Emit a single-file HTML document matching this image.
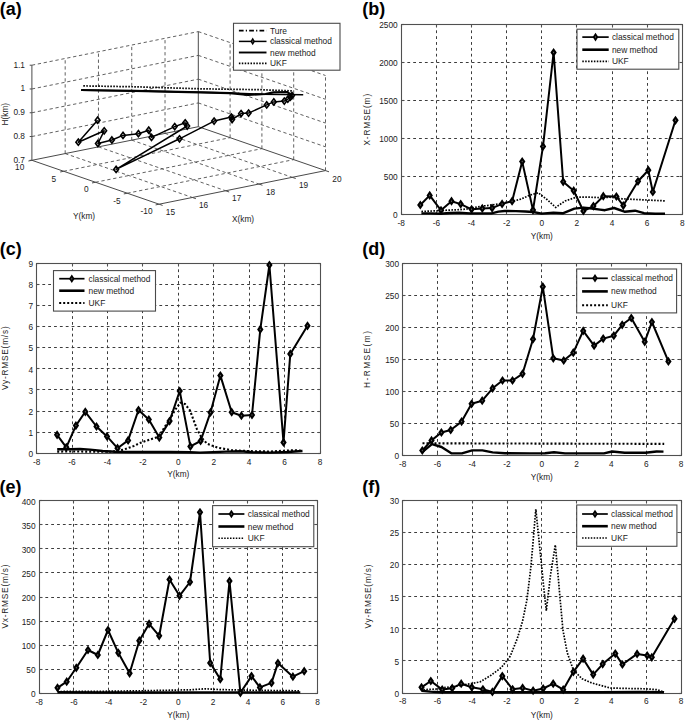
<!DOCTYPE html><html><head><meta charset="utf-8"><style>html,body{margin:0;padding:0;background:#fff;width:685px;height:720px;overflow:hidden}svg{display:block;font-family:"Liberation Sans",sans-serif}</style></head><body>
<svg width="685" height="720" viewBox="0 0 685 720" font-size="8.3" fill="#1a1a1a">
<line x1="31.90" y1="136.52" x2="198.30" y2="102.92" stroke="#444" stroke-width="0.85" stroke-dasharray="3.3 2.7"/>
<line x1="31.90" y1="112.75" x2="198.30" y2="79.15" stroke="#444" stroke-width="0.85" stroke-dasharray="3.3 2.7"/>
<line x1="31.90" y1="88.97" x2="198.30" y2="55.38" stroke="#444" stroke-width="0.85" stroke-dasharray="3.3 2.7"/>
<line x1="31.90" y1="65.20" x2="198.30" y2="31.60" stroke="#444" stroke-width="0.85" stroke-dasharray="3.3 2.7"/>
<line x1="65.18" y1="153.58" x2="65.18" y2="58.48" stroke="#444" stroke-width="0.85" stroke-dasharray="3.3 2.7"/>
<line x1="98.46" y1="146.86" x2="98.46" y2="51.76" stroke="#444" stroke-width="0.85" stroke-dasharray="3.3 2.7"/>
<line x1="131.74" y1="140.14" x2="131.74" y2="45.04" stroke="#444" stroke-width="0.85" stroke-dasharray="3.3 2.7"/>
<line x1="165.02" y1="133.42" x2="165.02" y2="38.32" stroke="#444" stroke-width="0.85" stroke-dasharray="3.3 2.7"/>
<line x1="198.30" y1="102.92" x2="325.50" y2="146.82" stroke="#444" stroke-width="0.85" stroke-dasharray="3.3 2.7"/>
<line x1="198.30" y1="79.15" x2="325.50" y2="123.05" stroke="#444" stroke-width="0.85" stroke-dasharray="3.3 2.7"/>
<line x1="198.30" y1="55.38" x2="325.50" y2="99.28" stroke="#444" stroke-width="0.85" stroke-dasharray="3.3 2.7"/>
<line x1="198.30" y1="31.60" x2="325.50" y2="75.50" stroke="#444" stroke-width="0.85" stroke-dasharray="3.3 2.7"/>
<line x1="230.10" y1="137.68" x2="230.10" y2="42.57" stroke="#444" stroke-width="0.85" stroke-dasharray="3.3 2.7"/>
<line x1="261.90" y1="148.65" x2="261.90" y2="53.55" stroke="#444" stroke-width="0.85" stroke-dasharray="3.3 2.7"/>
<line x1="293.70" y1="159.62" x2="293.70" y2="64.52" stroke="#444" stroke-width="0.85" stroke-dasharray="3.3 2.7"/>
<line x1="325.50" y1="170.60" x2="325.50" y2="75.50" stroke="#444" stroke-width="0.85" stroke-dasharray="3.3 2.7"/>
<line x1="65.18" y1="153.58" x2="192.38" y2="197.48" stroke="#444" stroke-width="0.85" stroke-dasharray="3.3 2.7"/>
<line x1="98.46" y1="146.86" x2="225.66" y2="190.76" stroke="#444" stroke-width="0.85" stroke-dasharray="3.3 2.7"/>
<line x1="131.74" y1="140.14" x2="258.94" y2="184.04" stroke="#444" stroke-width="0.85" stroke-dasharray="3.3 2.7"/>
<line x1="165.02" y1="133.42" x2="292.22" y2="177.32" stroke="#444" stroke-width="0.85" stroke-dasharray="3.3 2.7"/>
<line x1="63.70" y1="171.28" x2="230.10" y2="137.68" stroke="#444" stroke-width="0.85" stroke-dasharray="3.3 2.7"/>
<line x1="95.50" y1="182.25" x2="261.90" y2="148.65" stroke="#444" stroke-width="0.85" stroke-dasharray="3.3 2.7"/>
<line x1="127.30" y1="193.23" x2="293.70" y2="159.62" stroke="#444" stroke-width="0.85" stroke-dasharray="3.3 2.7"/>
<line x1="31.90" y1="160.30" x2="31.90" y2="65.20" stroke="#4a4a4a" stroke-width="1"/>
<line x1="198.30" y1="126.70" x2="198.30" y2="31.60" stroke="#4a4a4a" stroke-width="1"/>
<line x1="31.90" y1="160.30" x2="198.30" y2="126.70" stroke="#4a4a4a" stroke-width="1"/>
<line x1="198.30" y1="126.70" x2="325.50" y2="170.60" stroke="#4a4a4a" stroke-width="1"/>
<line x1="31.90" y1="160.30" x2="159.10" y2="204.20" stroke="#4a4a4a" stroke-width="1"/>
<line x1="159.10" y1="204.20" x2="325.50" y2="170.60" stroke="#4a4a4a" stroke-width="1"/>
<line x1="31.90" y1="160.30" x2="29.70" y2="160.30" stroke="#4a4a4a" stroke-width="1"/>
<text x="25.00" y="162.70" text-anchor="end">0.7</text>
<line x1="31.90" y1="136.52" x2="29.70" y2="136.52" stroke="#4a4a4a" stroke-width="1"/>
<text x="25.00" y="138.92" text-anchor="end">0.8</text>
<line x1="31.90" y1="112.75" x2="29.70" y2="112.75" stroke="#4a4a4a" stroke-width="1"/>
<text x="25.00" y="115.15" text-anchor="end">0.9</text>
<line x1="31.90" y1="88.97" x2="29.70" y2="88.97" stroke="#4a4a4a" stroke-width="1"/>
<text x="25.00" y="91.38" text-anchor="end">1</text>
<line x1="31.90" y1="65.20" x2="29.70" y2="65.20" stroke="#4a4a4a" stroke-width="1"/>
<text x="25.00" y="67.60" text-anchor="end">1.1</text>
<line x1="31.90" y1="160.30" x2="28.41" y2="161.01" stroke="#4a4a4a" stroke-width="1"/>
<line x1="63.70" y1="171.28" x2="60.21" y2="171.98" stroke="#4a4a4a" stroke-width="1"/>
<line x1="95.50" y1="182.25" x2="92.01" y2="182.96" stroke="#4a4a4a" stroke-width="1"/>
<line x1="127.30" y1="193.23" x2="123.81" y2="193.93" stroke="#4a4a4a" stroke-width="1"/>
<line x1="159.10" y1="204.20" x2="155.61" y2="204.91" stroke="#4a4a4a" stroke-width="1"/>
<line x1="159.10" y1="204.20" x2="162.60" y2="205.41" stroke="#4a4a4a" stroke-width="1"/>
<line x1="192.38" y1="197.48" x2="195.88" y2="198.69" stroke="#4a4a4a" stroke-width="1"/>
<line x1="225.66" y1="190.76" x2="229.16" y2="191.97" stroke="#4a4a4a" stroke-width="1"/>
<line x1="258.94" y1="184.04" x2="262.44" y2="185.25" stroke="#4a4a4a" stroke-width="1"/>
<line x1="292.22" y1="177.32" x2="295.72" y2="178.53" stroke="#4a4a4a" stroke-width="1"/>
<line x1="325.50" y1="170.60" x2="329.00" y2="171.81" stroke="#4a4a4a" stroke-width="1"/>
<text x="19.70" y="170.20" text-anchor="middle">10</text>
<text x="53.80" y="181.50" text-anchor="middle">5</text>
<text x="86.40" y="192.00" text-anchor="middle">0</text>
<text x="117.00" y="203.80" text-anchor="middle">-5</text>
<text x="146.50" y="214.40" text-anchor="middle">-10</text>
<text x="170.40" y="214.80" text-anchor="middle">15</text>
<text x="203.60" y="208.10" text-anchor="middle">16</text>
<text x="236.70" y="201.30" text-anchor="middle">17</text>
<text x="270.60" y="194.60" text-anchor="middle">18</text>
<text x="303.50" y="188.40" text-anchor="middle">19</text>
<text x="336.90" y="181.60" text-anchor="middle">20</text>
<text x="84" y="219.4" text-anchor="middle">Y(km)</text>
<text x="243" y="222.2" text-anchor="middle">X(km)</text>
<text transform="translate(8,114.2) rotate(-90)" text-anchor="middle">H(km)</text>
<polyline points="83.3,85.9 135.0,86.8 200.0,88.8 260.0,89.7 293.3,90.9" fill="none" stroke="#000" stroke-width="1.7" stroke-dasharray="1.6 1.4"/>
<polyline points="81.1,90.3 135.0,91.0 200.0,92.3 230.0,93.0 262.0,94.2 303.2,94.8" fill="none" stroke="#000" stroke-width="1.6"/>
<polyline points="81.1,90.0 135.0,90.8 200.0,92.4 230.0,93.2 248.0,94.8 258.0,94.4 265.4,94.0 273.5,92.4 287.1,92.0 289.5,93.6 292.8,95.2" fill="none" stroke="#000" stroke-width="2.2" stroke-linejoin="round"/>
<polyline points="97.6,120.2 78.3,142.2 104.2,130.8 97.9,143.5 111.9,140.0 123.0,135.4 138.4,133.7 148.7,130.2 151.5,137.4 174.7,126.6 185.2,122.8 187.2,126.0 116.1,169.4 179.5,138.8 214.1,121.1 231.4,117.1 232.1,119.5 241.1,113.6 248.6,113.1 266.7,104.9 273.8,101.9 284.3,101.1 287.8,99.2 290.4,97.1 292.0,95.6" fill="none" stroke="#000" stroke-width="1.5" stroke-linejoin="round"/>
<path d="M97.6 117.1L100.0 120.2L97.6 123.3L95.2 120.2ZM78.3 139.1L80.7 142.2L78.3 145.3L75.9 142.2ZM104.2 127.7L106.6 130.8L104.2 133.9L101.8 130.8ZM97.9 140.4L100.3 143.5L97.9 146.6L95.5 143.5ZM111.9 136.9L114.3 140.0L111.9 143.1L109.5 140.0ZM123.0 132.3L125.4 135.4L123.0 138.5L120.6 135.4ZM138.4 130.6L140.8 133.7L138.4 136.8L136.0 133.7ZM148.7 127.1L151.1 130.2L148.7 133.3L146.3 130.2ZM151.5 134.3L153.9 137.4L151.5 140.5L149.1 137.4ZM174.7 123.5L177.1 126.6L174.7 129.7L172.3 126.6ZM185.2 119.7L187.6 122.8L185.2 125.9L182.8 122.8ZM187.2 122.9L189.6 126.0L187.2 129.1L184.8 126.0ZM116.1 166.3L118.5 169.4L116.1 172.5L113.7 169.4ZM179.5 135.7L181.9 138.8L179.5 141.9L177.1 138.8ZM214.1 118.0L216.5 121.1L214.1 124.2L211.7 121.1ZM231.4 114.0L233.8 117.1L231.4 120.2L229.0 117.1ZM232.1 116.4L234.5 119.5L232.1 122.6L229.7 119.5ZM241.1 110.5L243.5 113.6L241.1 116.7L238.7 113.6ZM248.6 110.0L251.0 113.1L248.6 116.2L246.2 113.1ZM266.7 101.8L269.1 104.9L266.7 108.0L264.3 104.9ZM273.8 98.8L276.2 101.9L273.8 105.0L271.4 101.9ZM284.3 98.0L286.7 101.1L284.3 104.2L281.9 101.1ZM287.8 96.1L290.2 99.2L287.8 102.3L285.4 99.2ZM290.4 94.0L292.8 97.1L290.4 100.2L288.0 97.1ZM292.0 92.5L294.4 95.6L292.0 98.7L289.6 95.6Z" fill="none" stroke="#000" stroke-width="1.6"/>
<rect x="233.5" y="23.3" width="106.5" height="46.9" fill="#fff" stroke="#4a4a4a" stroke-width="1.1"/>
<line x1="238.9" y1="30.6" x2="266.5" y2="30.6" stroke="#000" stroke-width="1.7" stroke-dasharray="4.7 2.2 1.2 2.2"/>
<text x="270" y="33.6" font-size="8.4">Ture</text>
<line x1="238.9" y1="41.4" x2="266.5" y2="41.4" stroke="#000" stroke-width="1.5"/>
<path d="M252.7 37.6L255.0 41.4L252.7 45.2L250.4 41.4Z" fill="#000"/>
<path d="M252.7 40.1L253.4 41.4L252.7 42.7L252.0 41.4Z" fill="#555"/>
<text x="270" y="44.4" font-size="8.4">classical method</text>
<line x1="238.9" y1="52.5" x2="266.5" y2="52.5" stroke="#000" stroke-width="1.9"/>
<text x="270" y="55.5" font-size="8.4">new method</text>
<line x1="238.9" y1="63.4" x2="266.5" y2="63.4" stroke="#000" stroke-width="1.6" stroke-dasharray="1.5 1.4"/>
<text x="270" y="66.4" font-size="8.4">UKF</text>
<line x1="436.50" y1="24.50" x2="436.50" y2="214.50" stroke="#3c3c3c" stroke-width="1" stroke-dasharray="2.8 3.05"/>
<line x1="471.50" y1="24.50" x2="471.50" y2="214.50" stroke="#3c3c3c" stroke-width="1" stroke-dasharray="2.8 3.05"/>
<line x1="506.50" y1="24.50" x2="506.50" y2="214.50" stroke="#3c3c3c" stroke-width="1" stroke-dasharray="2.8 3.05"/>
<line x1="541.50" y1="24.50" x2="541.50" y2="214.50" stroke="#3c3c3c" stroke-width="1" stroke-dasharray="2.8 3.05"/>
<line x1="576.50" y1="24.50" x2="576.50" y2="214.50" stroke="#3c3c3c" stroke-width="1" stroke-dasharray="2.8 3.05"/>
<line x1="612.50" y1="24.50" x2="612.50" y2="214.50" stroke="#3c3c3c" stroke-width="1" stroke-dasharray="2.8 3.05"/>
<line x1="647.50" y1="24.50" x2="647.50" y2="214.50" stroke="#3c3c3c" stroke-width="1" stroke-dasharray="2.8 3.05"/>
<line x1="401.50" y1="176.50" x2="682.50" y2="176.50" stroke="#3c3c3c" stroke-width="1" stroke-dasharray="2.8 3.05"/>
<line x1="401.50" y1="138.50" x2="682.50" y2="138.50" stroke="#3c3c3c" stroke-width="1" stroke-dasharray="2.8 3.05"/>
<line x1="401.50" y1="100.50" x2="682.50" y2="100.50" stroke="#3c3c3c" stroke-width="1" stroke-dasharray="2.8 3.05"/>
<line x1="401.50" y1="62.50" x2="682.50" y2="62.50" stroke="#3c3c3c" stroke-width="1" stroke-dasharray="2.8 3.05"/>
<rect x="401.50" y="24.50" width="281.00" height="190.00" fill="none" stroke="#505050" stroke-width="1.1"/>
<line x1="401.50" y1="214.50" x2="401.50" y2="211.70" stroke="#505050" stroke-width="1.1"/>
<line x1="401.50" y1="24.50" x2="401.50" y2="27.30" stroke="#505050" stroke-width="1.1"/>
<text x="401.30" y="226.40" text-anchor="middle">-8</text>
<line x1="436.50" y1="214.50" x2="436.50" y2="211.70" stroke="#505050" stroke-width="1.1"/>
<line x1="436.50" y1="24.50" x2="436.50" y2="27.30" stroke="#505050" stroke-width="1.1"/>
<text x="436.43" y="226.40" text-anchor="middle">-6</text>
<line x1="471.50" y1="214.50" x2="471.50" y2="211.70" stroke="#505050" stroke-width="1.1"/>
<line x1="471.50" y1="24.50" x2="471.50" y2="27.30" stroke="#505050" stroke-width="1.1"/>
<text x="471.55" y="226.40" text-anchor="middle">-4</text>
<line x1="506.50" y1="214.50" x2="506.50" y2="211.70" stroke="#505050" stroke-width="1.1"/>
<line x1="506.50" y1="24.50" x2="506.50" y2="27.30" stroke="#505050" stroke-width="1.1"/>
<text x="506.67" y="226.40" text-anchor="middle">-2</text>
<line x1="541.50" y1="214.50" x2="541.50" y2="211.70" stroke="#505050" stroke-width="1.1"/>
<line x1="541.50" y1="24.50" x2="541.50" y2="27.30" stroke="#505050" stroke-width="1.1"/>
<text x="541.80" y="226.40" text-anchor="middle">0</text>
<line x1="576.50" y1="214.50" x2="576.50" y2="211.70" stroke="#505050" stroke-width="1.1"/>
<line x1="576.50" y1="24.50" x2="576.50" y2="27.30" stroke="#505050" stroke-width="1.1"/>
<text x="576.92" y="226.40" text-anchor="middle">2</text>
<line x1="612.50" y1="214.50" x2="612.50" y2="211.70" stroke="#505050" stroke-width="1.1"/>
<line x1="612.50" y1="24.50" x2="612.50" y2="27.30" stroke="#505050" stroke-width="1.1"/>
<text x="612.05" y="226.40" text-anchor="middle">4</text>
<line x1="647.50" y1="214.50" x2="647.50" y2="211.70" stroke="#505050" stroke-width="1.1"/>
<line x1="647.50" y1="24.50" x2="647.50" y2="27.30" stroke="#505050" stroke-width="1.1"/>
<text x="647.17" y="226.40" text-anchor="middle">6</text>
<line x1="682.50" y1="214.50" x2="682.50" y2="211.70" stroke="#505050" stroke-width="1.1"/>
<line x1="682.50" y1="24.50" x2="682.50" y2="27.30" stroke="#505050" stroke-width="1.1"/>
<text x="682.30" y="226.40" text-anchor="middle">8</text>
<line x1="401.50" y1="214.50" x2="404.30" y2="214.50" stroke="#505050" stroke-width="1.1"/>
<line x1="682.50" y1="214.50" x2="679.70" y2="214.50" stroke="#505050" stroke-width="1.1"/>
<text x="397.70" y="218.20" text-anchor="end">0</text>
<line x1="401.50" y1="176.50" x2="404.30" y2="176.50" stroke="#505050" stroke-width="1.1"/>
<line x1="682.50" y1="176.50" x2="679.70" y2="176.50" stroke="#505050" stroke-width="1.1"/>
<text x="397.70" y="180.18" text-anchor="end">500</text>
<line x1="401.50" y1="138.50" x2="404.30" y2="138.50" stroke="#505050" stroke-width="1.1"/>
<line x1="682.50" y1="138.50" x2="679.70" y2="138.50" stroke="#505050" stroke-width="1.1"/>
<text x="397.70" y="142.16" text-anchor="end">1000</text>
<line x1="401.50" y1="100.50" x2="404.30" y2="100.50" stroke="#505050" stroke-width="1.1"/>
<line x1="682.50" y1="100.50" x2="679.70" y2="100.50" stroke="#505050" stroke-width="1.1"/>
<text x="397.70" y="104.14" text-anchor="end">1500</text>
<line x1="401.50" y1="62.50" x2="404.30" y2="62.50" stroke="#505050" stroke-width="1.1"/>
<line x1="682.50" y1="62.50" x2="679.70" y2="62.50" stroke="#505050" stroke-width="1.1"/>
<text x="397.70" y="66.12" text-anchor="end">2000</text>
<line x1="401.50" y1="24.50" x2="404.30" y2="24.50" stroke="#505050" stroke-width="1.1"/>
<line x1="682.50" y1="24.50" x2="679.70" y2="24.50" stroke="#505050" stroke-width="1.1"/>
<text x="397.70" y="28.10" text-anchor="end">2500</text>
<text x="541.80" y="238.80" text-anchor="middle">Y(km)</text>
<text transform="translate(370.00,119.70) rotate(-90)" text-anchor="middle" textLength="51.7" lengthAdjust="spacing">X-RMSE(m)</text>
<polyline points="421.4,211.5 436.3,210.8 445.0,210.3 458.2,209.7 466.0,209.1 480.0,206.5 495.0,204.5 512.2,201.3 520.7,199.2 530.0,195.1 538.2,192.8 547.0,199.5 555.7,207.4 565.0,201.0 576.7,197.1 588.4,197.1 600.0,197.6 610.0,197.2 622.0,198.8 646.6,200.0 665.6,200.9" fill="none" stroke="#000" stroke-width="1.7" stroke-dasharray="1.6 1.4"/>
<polyline points="421.4,213.4 431.0,213.4 440.7,213.8 449.4,213.0 459.0,212.6 470.0,213.4 491.5,213.4 498.5,211.6 504.4,211.0 516.0,211.1 525.4,211.5 533.0,212.0 541.7,213.6 553.4,212.6 562.7,213.3 574.4,208.6 583.7,207.6 591.9,208.5 600.0,209.6 604.9,210.2 614.1,208.0 624.5,211.7 635.0,210.7 644.1,213.2 655.2,213.7 665.0,213.7" fill="none" stroke="#000" stroke-width="2.4" stroke-linejoin="round"/>
<polyline points="420.3,205.0 429.7,195.4 441.0,210.3 451.5,201.2 460.7,204.1 471.6,209.3 482.3,208.4 492.1,208.1 502.1,203.9 512.1,201.2 522.2,161.6 533.0,210.1 543.0,146.4 553.6,52.5 563.2,181.8 573.7,190.7 583.4,211.0 593.4,206.1 603.3,196.2 616.4,196.5 623.3,205.6 638.0,181.3 648.3,170.2 652.8,192.0 675.5,120.3" fill="none" stroke="#000" stroke-width="2.0" stroke-linejoin="round"/>
<path d="M420.3 200.4L423.5 205.0L420.3 209.6L417.1 205.0ZM429.7 190.8L432.9 195.4L429.7 200.0L426.5 195.4ZM441.0 205.7L444.2 210.3L441.0 214.9L437.8 210.3ZM451.5 196.6L454.7 201.2L451.5 205.8L448.3 201.2ZM460.7 199.5L463.9 204.1L460.7 208.7L457.5 204.1ZM471.6 204.7L474.8 209.3L471.6 213.9L468.4 209.3ZM482.3 203.8L485.5 208.4L482.3 213.0L479.1 208.4ZM492.1 203.5L495.3 208.1L492.1 212.7L488.9 208.1ZM502.1 199.3L505.3 203.9L502.1 208.5L498.9 203.9ZM512.1 196.6L515.3 201.2L512.1 205.8L508.9 201.2ZM522.2 157.0L525.4 161.6L522.2 166.2L519.0 161.6ZM533.0 205.5L536.2 210.1L533.0 214.7L529.8 210.1ZM543.0 141.8L546.2 146.4L543.0 151.0L539.8 146.4ZM553.6 47.9L556.8 52.5L553.6 57.1L550.4 52.5ZM563.2 177.2L566.4 181.8L563.2 186.4L560.0 181.8ZM573.7 186.1L576.9 190.7L573.7 195.3L570.5 190.7ZM583.4 206.4L586.6 211.0L583.4 215.6L580.2 211.0ZM593.4 201.5L596.6 206.1L593.4 210.7L590.2 206.1ZM603.3 191.6L606.5 196.2L603.3 200.8L600.1 196.2ZM616.4 191.9L619.6 196.5L616.4 201.1L613.2 196.5ZM623.3 201.0L626.5 205.6L623.3 210.2L620.1 205.6ZM638.0 176.7L641.2 181.3L638.0 185.9L634.8 181.3ZM648.3 165.6L651.5 170.2L648.3 174.8L645.1 170.2ZM652.8 187.4L656.0 192.0L652.8 196.6L649.6 192.0ZM675.5 115.7L678.7 120.3L675.5 124.9L672.3 120.3Z" fill="#000"/>
<path d="M420.3 204.0L421.0 205.0L420.3 206.0L419.6 205.0ZM429.7 194.4L430.4 195.4L429.7 196.4L429.0 195.4ZM441.0 209.3L441.7 210.3L441.0 211.3L440.3 210.3ZM451.5 200.2L452.2 201.2L451.5 202.2L450.8 201.2ZM460.7 203.1L461.4 204.1L460.7 205.1L460.0 204.1ZM471.6 208.3L472.3 209.3L471.6 210.3L470.9 209.3ZM482.3 207.4L483.0 208.4L482.3 209.4L481.6 208.4ZM492.1 207.1L492.8 208.1L492.1 209.1L491.4 208.1ZM502.1 202.9L502.8 203.9L502.1 204.9L501.4 203.9ZM512.1 200.2L512.8 201.2L512.1 202.2L511.4 201.2ZM522.2 160.6L522.9 161.6L522.2 162.6L521.5 161.6ZM533.0 209.1L533.7 210.1L533.0 211.1L532.3 210.1ZM543.0 145.4L543.7 146.4L543.0 147.4L542.3 146.4ZM553.6 51.5L554.3 52.5L553.6 53.5L552.9 52.5ZM563.2 180.8L563.9 181.8L563.2 182.8L562.5 181.8ZM573.7 189.7L574.4 190.7L573.7 191.7L573.0 190.7ZM583.4 210.0L584.1 211.0L583.4 212.0L582.7 211.0ZM593.4 205.1L594.1 206.1L593.4 207.1L592.7 206.1ZM603.3 195.2L604.0 196.2L603.3 197.2L602.6 196.2ZM616.4 195.5L617.1 196.5L616.4 197.5L615.7 196.5ZM623.3 204.6L624.0 205.6L623.3 206.6L622.6 205.6ZM638.0 180.3L638.7 181.3L638.0 182.3L637.3 181.3ZM648.3 169.2L649.0 170.2L648.3 171.2L647.6 170.2ZM652.8 191.0L653.5 192.0L652.8 193.0L652.1 192.0ZM675.5 119.3L676.2 120.3L675.5 121.3L674.8 120.3Z" fill="#666"/>
<rect x="577.0" y="29.2" width="101.8" height="40.0" fill="#fff" stroke="#4a4a4a" stroke-width="1.1"/>
<line x1="582.3" y1="37.1" x2="608.7" y2="37.1" stroke="#000" stroke-width="1.7"/>
<path d="M595.5 32.8L598.3 37.1L595.5 41.4L592.7 37.1Z" fill="#000"/>
<path d="M595.5 35.8L596.2 37.1L595.5 38.4L594.8 37.1Z" fill="#555"/>
<text x="611.9" y="40.1" font-size="8.4">classical method</text>
<line x1="582.3" y1="49.7" x2="608.7" y2="49.7" stroke="#000" stroke-width="2.6"/>
<text x="611.9" y="52.7" font-size="8.4">new method</text>
<line x1="582.3" y1="61.4" x2="608.7" y2="61.4" stroke="#000" stroke-width="1.6" stroke-dasharray="1.5 1.4"/>
<text x="611.9" y="64.4" font-size="8.4">UKF</text>
<line x1="72.50" y1="263.50" x2="72.50" y2="453.50" stroke="#3c3c3c" stroke-width="1" stroke-dasharray="2.8 3.05"/>
<line x1="107.50" y1="263.50" x2="107.50" y2="453.50" stroke="#3c3c3c" stroke-width="1" stroke-dasharray="2.8 3.05"/>
<line x1="142.50" y1="263.50" x2="142.50" y2="453.50" stroke="#3c3c3c" stroke-width="1" stroke-dasharray="2.8 3.05"/>
<line x1="178.50" y1="263.50" x2="178.50" y2="453.50" stroke="#3c3c3c" stroke-width="1" stroke-dasharray="2.8 3.05"/>
<line x1="213.50" y1="263.50" x2="213.50" y2="453.50" stroke="#3c3c3c" stroke-width="1" stroke-dasharray="2.8 3.05"/>
<line x1="249.50" y1="263.50" x2="249.50" y2="453.50" stroke="#3c3c3c" stroke-width="1" stroke-dasharray="2.8 3.05"/>
<line x1="284.50" y1="263.50" x2="284.50" y2="453.50" stroke="#3c3c3c" stroke-width="1" stroke-dasharray="2.8 3.05"/>
<line x1="36.50" y1="432.50" x2="320.50" y2="432.50" stroke="#3c3c3c" stroke-width="1" stroke-dasharray="2.8 3.05"/>
<line x1="36.50" y1="411.50" x2="320.50" y2="411.50" stroke="#3c3c3c" stroke-width="1" stroke-dasharray="2.8 3.05"/>
<line x1="36.50" y1="389.50" x2="320.50" y2="389.50" stroke="#3c3c3c" stroke-width="1" stroke-dasharray="2.8 3.05"/>
<line x1="36.50" y1="368.50" x2="320.50" y2="368.50" stroke="#3c3c3c" stroke-width="1" stroke-dasharray="2.8 3.05"/>
<line x1="36.50" y1="347.50" x2="320.50" y2="347.50" stroke="#3c3c3c" stroke-width="1" stroke-dasharray="2.8 3.05"/>
<line x1="36.50" y1="326.50" x2="320.50" y2="326.50" stroke="#3c3c3c" stroke-width="1" stroke-dasharray="2.8 3.05"/>
<line x1="36.50" y1="305.50" x2="320.50" y2="305.50" stroke="#3c3c3c" stroke-width="1" stroke-dasharray="2.8 3.05"/>
<line x1="36.50" y1="284.50" x2="320.50" y2="284.50" stroke="#3c3c3c" stroke-width="1" stroke-dasharray="2.8 3.05"/>
<rect x="36.50" y="263.50" width="284.00" height="190.00" fill="none" stroke="#505050" stroke-width="1.1"/>
<line x1="36.50" y1="453.50" x2="36.50" y2="450.70" stroke="#505050" stroke-width="1.1"/>
<line x1="36.50" y1="263.50" x2="36.50" y2="266.30" stroke="#505050" stroke-width="1.1"/>
<text x="36.60" y="464.80" text-anchor="middle">-8</text>
<line x1="72.50" y1="453.50" x2="72.50" y2="450.70" stroke="#505050" stroke-width="1.1"/>
<line x1="72.50" y1="263.50" x2="72.50" y2="266.30" stroke="#505050" stroke-width="1.1"/>
<text x="72.03" y="464.80" text-anchor="middle">-6</text>
<line x1="107.50" y1="453.50" x2="107.50" y2="450.70" stroke="#505050" stroke-width="1.1"/>
<line x1="107.50" y1="263.50" x2="107.50" y2="266.30" stroke="#505050" stroke-width="1.1"/>
<text x="107.45" y="464.80" text-anchor="middle">-4</text>
<line x1="142.50" y1="453.50" x2="142.50" y2="450.70" stroke="#505050" stroke-width="1.1"/>
<line x1="142.50" y1="263.50" x2="142.50" y2="266.30" stroke="#505050" stroke-width="1.1"/>
<text x="142.88" y="464.80" text-anchor="middle">-2</text>
<line x1="178.50" y1="453.50" x2="178.50" y2="450.70" stroke="#505050" stroke-width="1.1"/>
<line x1="178.50" y1="263.50" x2="178.50" y2="266.30" stroke="#505050" stroke-width="1.1"/>
<text x="178.30" y="464.80" text-anchor="middle">0</text>
<line x1="213.50" y1="453.50" x2="213.50" y2="450.70" stroke="#505050" stroke-width="1.1"/>
<line x1="213.50" y1="263.50" x2="213.50" y2="266.30" stroke="#505050" stroke-width="1.1"/>
<text x="213.72" y="464.80" text-anchor="middle">2</text>
<line x1="249.50" y1="453.50" x2="249.50" y2="450.70" stroke="#505050" stroke-width="1.1"/>
<line x1="249.50" y1="263.50" x2="249.50" y2="266.30" stroke="#505050" stroke-width="1.1"/>
<text x="249.15" y="464.80" text-anchor="middle">4</text>
<line x1="284.50" y1="453.50" x2="284.50" y2="450.70" stroke="#505050" stroke-width="1.1"/>
<line x1="284.50" y1="263.50" x2="284.50" y2="266.30" stroke="#505050" stroke-width="1.1"/>
<text x="284.57" y="464.80" text-anchor="middle">6</text>
<line x1="320.50" y1="453.50" x2="320.50" y2="450.70" stroke="#505050" stroke-width="1.1"/>
<line x1="320.50" y1="263.50" x2="320.50" y2="266.30" stroke="#505050" stroke-width="1.1"/>
<text x="320.00" y="464.80" text-anchor="middle">8</text>
<line x1="36.50" y1="453.50" x2="39.30" y2="453.50" stroke="#505050" stroke-width="1.1"/>
<line x1="320.50" y1="453.50" x2="317.70" y2="453.50" stroke="#505050" stroke-width="1.1"/>
<text x="33.00" y="457.20" text-anchor="end">0</text>
<line x1="36.50" y1="432.50" x2="39.30" y2="432.50" stroke="#505050" stroke-width="1.1"/>
<line x1="320.50" y1="432.50" x2="317.70" y2="432.50" stroke="#505050" stroke-width="1.1"/>
<text x="33.00" y="436.04" text-anchor="end">1</text>
<line x1="36.50" y1="411.50" x2="39.30" y2="411.50" stroke="#505050" stroke-width="1.1"/>
<line x1="320.50" y1="411.50" x2="317.70" y2="411.50" stroke="#505050" stroke-width="1.1"/>
<text x="33.00" y="414.89" text-anchor="end">2</text>
<line x1="36.50" y1="389.50" x2="39.30" y2="389.50" stroke="#505050" stroke-width="1.1"/>
<line x1="320.50" y1="389.50" x2="317.70" y2="389.50" stroke="#505050" stroke-width="1.1"/>
<text x="33.00" y="393.73" text-anchor="end">3</text>
<line x1="36.50" y1="368.50" x2="39.30" y2="368.50" stroke="#505050" stroke-width="1.1"/>
<line x1="320.50" y1="368.50" x2="317.70" y2="368.50" stroke="#505050" stroke-width="1.1"/>
<text x="33.00" y="372.58" text-anchor="end">4</text>
<line x1="36.50" y1="347.50" x2="39.30" y2="347.50" stroke="#505050" stroke-width="1.1"/>
<line x1="320.50" y1="347.50" x2="317.70" y2="347.50" stroke="#505050" stroke-width="1.1"/>
<text x="33.00" y="351.42" text-anchor="end">5</text>
<line x1="36.50" y1="326.50" x2="39.30" y2="326.50" stroke="#505050" stroke-width="1.1"/>
<line x1="320.50" y1="326.50" x2="317.70" y2="326.50" stroke="#505050" stroke-width="1.1"/>
<text x="33.00" y="330.27" text-anchor="end">6</text>
<line x1="36.50" y1="305.50" x2="39.30" y2="305.50" stroke="#505050" stroke-width="1.1"/>
<line x1="320.50" y1="305.50" x2="317.70" y2="305.50" stroke="#505050" stroke-width="1.1"/>
<text x="33.00" y="309.11" text-anchor="end">7</text>
<line x1="36.50" y1="284.50" x2="39.30" y2="284.50" stroke="#505050" stroke-width="1.1"/>
<line x1="320.50" y1="284.50" x2="317.70" y2="284.50" stroke="#505050" stroke-width="1.1"/>
<text x="33.00" y="287.96" text-anchor="end">8</text>
<line x1="36.50" y1="263.50" x2="39.30" y2="263.50" stroke="#505050" stroke-width="1.1"/>
<line x1="320.50" y1="263.50" x2="317.70" y2="263.50" stroke="#505050" stroke-width="1.1"/>
<text x="33.00" y="266.80" text-anchor="end">9</text>
<text x="178.30" y="477.00" text-anchor="middle">Y(km)</text>
<text transform="translate(7.60,358.20) rotate(-90)" text-anchor="middle" textLength="63.7" lengthAdjust="spacing">Vy-RMSE(m/s)</text>
<polyline points="57.2,451.6 75.0,451.5 95.0,451.7 110.0,451.7 117.0,451.0 123.6,449.6 134.1,445.9 139.4,443.2 148.0,440.2 158.9,436.6 164.0,428.0 169.6,419.6 175.0,410.0 180.3,402.8 185.0,404.0 190.0,410.4 196.8,428.9 201.6,437.6 207.0,443.7 217.5,447.6 231.5,450.2 249.0,451.1 270.0,451.5 284.0,450.7 295.5,450.2 302.5,451.1" fill="none" stroke="#000" stroke-width="2.1" stroke-dasharray="2 2"/>
<polyline points="57.2,449.3 70.0,449.2 80.0,449.0 90.0,449.6 102.6,451.0 115.0,451.8 130.0,452.0 150.0,452.0 170.0,452.0 190.0,452.2 200.0,452.6 226.3,451.6 240.3,451.2 252.6,452.3 270.0,452.6 287.6,452.0 302.5,451.0" fill="none" stroke="#000" stroke-width="2.4" stroke-linejoin="round"/>
<polyline points="57.1,434.8 66.3,447.3 75.9,425.6 85.3,411.8 96.5,426.5 107.0,436.4 117.5,448.2 128.1,440.4 138.5,410.0 148.8,419.5 159.3,437.6 169.6,421.1 179.7,391.0 190.4,446.4 200.6,441.0 210.5,412.4 220.4,375.6 231.7,412.2 241.4,415.7 252.0,415.0 260.3,329.4 269.4,265.0 283.5,442.4 290.3,353.9 307.5,325.8" fill="none" stroke="#000" stroke-width="2.0" stroke-linejoin="round"/>
<path d="M57.1 430.2L60.3 434.8L57.1 439.4L53.9 434.8ZM66.3 442.7L69.5 447.3L66.3 451.9L63.1 447.3ZM75.9 421.0L79.1 425.6L75.9 430.2L72.7 425.6ZM85.3 407.2L88.5 411.8L85.3 416.4L82.1 411.8ZM96.5 421.9L99.7 426.5L96.5 431.1L93.3 426.5ZM107.0 431.8L110.2 436.4L107.0 441.0L103.8 436.4ZM117.5 443.6L120.7 448.2L117.5 452.8L114.3 448.2ZM128.1 435.8L131.3 440.4L128.1 445.0L124.9 440.4ZM138.5 405.4L141.7 410.0L138.5 414.6L135.3 410.0ZM148.8 414.9L152.0 419.5L148.8 424.1L145.6 419.5ZM159.3 433.0L162.5 437.6L159.3 442.2L156.1 437.6ZM169.6 416.5L172.8 421.1L169.6 425.7L166.4 421.1ZM179.7 386.4L182.9 391.0L179.7 395.6L176.5 391.0ZM190.4 441.8L193.6 446.4L190.4 451.0L187.2 446.4ZM200.6 436.4L203.8 441.0L200.6 445.6L197.4 441.0ZM210.5 407.8L213.7 412.4L210.5 417.0L207.3 412.4ZM220.4 371.0L223.6 375.6L220.4 380.2L217.2 375.6ZM231.7 407.6L234.9 412.2L231.7 416.8L228.5 412.2ZM241.4 411.1L244.6 415.7L241.4 420.3L238.2 415.7ZM252.0 410.4L255.2 415.0L252.0 419.6L248.8 415.0ZM260.3 324.8L263.5 329.4L260.3 334.0L257.1 329.4ZM269.4 260.4L272.6 265.0L269.4 269.6L266.2 265.0ZM283.5 437.8L286.7 442.4L283.5 447.0L280.3 442.4ZM290.3 349.3L293.5 353.9L290.3 358.5L287.1 353.9ZM307.5 321.2L310.7 325.8L307.5 330.4L304.3 325.8Z" fill="#000"/>
<path d="M57.1 433.8L57.8 434.8L57.1 435.8L56.4 434.8ZM66.3 446.3L67.0 447.3L66.3 448.3L65.6 447.3ZM75.9 424.6L76.6 425.6L75.9 426.6L75.2 425.6ZM85.3 410.8L86.0 411.8L85.3 412.8L84.6 411.8ZM96.5 425.5L97.2 426.5L96.5 427.5L95.8 426.5ZM107.0 435.4L107.7 436.4L107.0 437.4L106.3 436.4ZM117.5 447.2L118.2 448.2L117.5 449.2L116.8 448.2ZM128.1 439.4L128.8 440.4L128.1 441.4L127.4 440.4ZM138.5 409.0L139.2 410.0L138.5 411.0L137.8 410.0ZM148.8 418.5L149.5 419.5L148.8 420.5L148.1 419.5ZM159.3 436.6L160.0 437.6L159.3 438.6L158.6 437.6ZM169.6 420.1L170.3 421.1L169.6 422.1L168.9 421.1ZM179.7 390.0L180.4 391.0L179.7 392.0L179.0 391.0ZM190.4 445.4L191.1 446.4L190.4 447.4L189.7 446.4ZM200.6 440.0L201.3 441.0L200.6 442.0L199.9 441.0ZM210.5 411.4L211.2 412.4L210.5 413.4L209.8 412.4ZM220.4 374.6L221.1 375.6L220.4 376.6L219.7 375.6ZM231.7 411.2L232.4 412.2L231.7 413.2L231.0 412.2ZM241.4 414.7L242.1 415.7L241.4 416.7L240.7 415.7ZM252.0 414.0L252.7 415.0L252.0 416.0L251.3 415.0ZM260.3 328.4L261.0 329.4L260.3 330.4L259.6 329.4ZM269.4 264.0L270.1 265.0L269.4 266.0L268.7 265.0ZM283.5 441.4L284.2 442.4L283.5 443.4L282.8 442.4ZM290.3 352.9L291.0 353.9L290.3 354.9L289.6 353.9ZM307.5 324.8L308.2 325.8L307.5 326.8L306.8 325.8Z" fill="#666"/>
<rect x="53.5" y="270.6" width="102.0" height="40.5" fill="#fff" stroke="#4a4a4a" stroke-width="1.1"/>
<line x1="59.2" y1="278.7" x2="84.5" y2="278.7" stroke="#000" stroke-width="1.7"/>
<path d="M71.8 274.4L74.6 278.7L71.8 283.0L69.0 278.7Z" fill="#000"/>
<path d="M71.8 277.4L72.5 278.7L71.8 280.0L71.1 278.7Z" fill="#555"/>
<text x="88.5" y="281.7" font-size="8.4">classical method</text>
<line x1="59.2" y1="290.7" x2="84.5" y2="290.7" stroke="#000" stroke-width="2.6"/>
<text x="88.5" y="293.7" font-size="8.4">new method</text>
<line x1="59.2" y1="303" x2="84.5" y2="303" stroke="#000" stroke-width="2.1" stroke-dasharray="2 2"/>
<text x="88.5" y="306.0" font-size="8.4">UKF</text>
<line x1="437.50" y1="263.50" x2="437.50" y2="455.50" stroke="#3c3c3c" stroke-width="1" stroke-dasharray="2.8 3.05"/>
<line x1="472.50" y1="263.50" x2="472.50" y2="455.50" stroke="#3c3c3c" stroke-width="1" stroke-dasharray="2.8 3.05"/>
<line x1="507.50" y1="263.50" x2="507.50" y2="455.50" stroke="#3c3c3c" stroke-width="1" stroke-dasharray="2.8 3.05"/>
<line x1="541.50" y1="263.50" x2="541.50" y2="455.50" stroke="#3c3c3c" stroke-width="1" stroke-dasharray="2.8 3.05"/>
<line x1="576.50" y1="263.50" x2="576.50" y2="455.50" stroke="#3c3c3c" stroke-width="1" stroke-dasharray="2.8 3.05"/>
<line x1="611.50" y1="263.50" x2="611.50" y2="455.50" stroke="#3c3c3c" stroke-width="1" stroke-dasharray="2.8 3.05"/>
<line x1="646.50" y1="263.50" x2="646.50" y2="455.50" stroke="#3c3c3c" stroke-width="1" stroke-dasharray="2.8 3.05"/>
<line x1="402.50" y1="423.50" x2="681.50" y2="423.50" stroke="#3c3c3c" stroke-width="1" stroke-dasharray="2.8 3.05"/>
<line x1="402.50" y1="391.50" x2="681.50" y2="391.50" stroke="#3c3c3c" stroke-width="1" stroke-dasharray="2.8 3.05"/>
<line x1="402.50" y1="359.50" x2="681.50" y2="359.50" stroke="#3c3c3c" stroke-width="1" stroke-dasharray="2.8 3.05"/>
<line x1="402.50" y1="327.50" x2="681.50" y2="327.50" stroke="#3c3c3c" stroke-width="1" stroke-dasharray="2.8 3.05"/>
<line x1="402.50" y1="295.50" x2="681.50" y2="295.50" stroke="#3c3c3c" stroke-width="1" stroke-dasharray="2.8 3.05"/>
<rect x="402.50" y="263.50" width="279.00" height="192.00" fill="none" stroke="#505050" stroke-width="1.1"/>
<line x1="402.50" y1="455.50" x2="402.50" y2="452.70" stroke="#505050" stroke-width="1.1"/>
<line x1="402.50" y1="263.50" x2="402.50" y2="266.30" stroke="#505050" stroke-width="1.1"/>
<text x="402.60" y="467.00" text-anchor="middle">-8</text>
<line x1="437.50" y1="455.50" x2="437.50" y2="452.70" stroke="#505050" stroke-width="1.1"/>
<line x1="437.50" y1="263.50" x2="437.50" y2="266.30" stroke="#505050" stroke-width="1.1"/>
<text x="437.40" y="467.00" text-anchor="middle">-6</text>
<line x1="472.50" y1="455.50" x2="472.50" y2="452.70" stroke="#505050" stroke-width="1.1"/>
<line x1="472.50" y1="263.50" x2="472.50" y2="266.30" stroke="#505050" stroke-width="1.1"/>
<text x="472.20" y="467.00" text-anchor="middle">-4</text>
<line x1="507.50" y1="455.50" x2="507.50" y2="452.70" stroke="#505050" stroke-width="1.1"/>
<line x1="507.50" y1="263.50" x2="507.50" y2="266.30" stroke="#505050" stroke-width="1.1"/>
<text x="507.00" y="467.00" text-anchor="middle">-2</text>
<line x1="541.50" y1="455.50" x2="541.50" y2="452.70" stroke="#505050" stroke-width="1.1"/>
<line x1="541.50" y1="263.50" x2="541.50" y2="266.30" stroke="#505050" stroke-width="1.1"/>
<text x="541.80" y="467.00" text-anchor="middle">0</text>
<line x1="576.50" y1="455.50" x2="576.50" y2="452.70" stroke="#505050" stroke-width="1.1"/>
<line x1="576.50" y1="263.50" x2="576.50" y2="266.30" stroke="#505050" stroke-width="1.1"/>
<text x="576.60" y="467.00" text-anchor="middle">2</text>
<line x1="611.50" y1="455.50" x2="611.50" y2="452.70" stroke="#505050" stroke-width="1.1"/>
<line x1="611.50" y1="263.50" x2="611.50" y2="266.30" stroke="#505050" stroke-width="1.1"/>
<text x="611.40" y="467.00" text-anchor="middle">4</text>
<line x1="646.50" y1="455.50" x2="646.50" y2="452.70" stroke="#505050" stroke-width="1.1"/>
<line x1="646.50" y1="263.50" x2="646.50" y2="266.30" stroke="#505050" stroke-width="1.1"/>
<text x="646.20" y="467.00" text-anchor="middle">6</text>
<line x1="681.50" y1="455.50" x2="681.50" y2="452.70" stroke="#505050" stroke-width="1.1"/>
<line x1="681.50" y1="263.50" x2="681.50" y2="266.30" stroke="#505050" stroke-width="1.1"/>
<text x="681.00" y="467.00" text-anchor="middle">8</text>
<line x1="402.50" y1="455.50" x2="405.30" y2="455.50" stroke="#505050" stroke-width="1.1"/>
<line x1="681.50" y1="455.50" x2="678.70" y2="455.50" stroke="#505050" stroke-width="1.1"/>
<text x="399.00" y="458.80" text-anchor="end">0</text>
<line x1="402.50" y1="423.50" x2="405.30" y2="423.50" stroke="#505050" stroke-width="1.1"/>
<line x1="681.50" y1="423.50" x2="678.70" y2="423.50" stroke="#505050" stroke-width="1.1"/>
<text x="399.00" y="426.90" text-anchor="end">50</text>
<line x1="402.50" y1="391.50" x2="405.30" y2="391.50" stroke="#505050" stroke-width="1.1"/>
<line x1="681.50" y1="391.50" x2="678.70" y2="391.50" stroke="#505050" stroke-width="1.1"/>
<text x="399.00" y="395.00" text-anchor="end">100</text>
<line x1="402.50" y1="359.50" x2="405.30" y2="359.50" stroke="#505050" stroke-width="1.1"/>
<line x1="681.50" y1="359.50" x2="678.70" y2="359.50" stroke="#505050" stroke-width="1.1"/>
<text x="399.00" y="363.10" text-anchor="end">150</text>
<line x1="402.50" y1="327.50" x2="405.30" y2="327.50" stroke="#505050" stroke-width="1.1"/>
<line x1="681.50" y1="327.50" x2="678.70" y2="327.50" stroke="#505050" stroke-width="1.1"/>
<text x="399.00" y="331.20" text-anchor="end">200</text>
<line x1="402.50" y1="295.50" x2="405.30" y2="295.50" stroke="#505050" stroke-width="1.1"/>
<line x1="681.50" y1="295.50" x2="678.70" y2="295.50" stroke="#505050" stroke-width="1.1"/>
<text x="399.00" y="299.30" text-anchor="end">250</text>
<line x1="402.50" y1="263.50" x2="405.30" y2="263.50" stroke="#505050" stroke-width="1.1"/>
<line x1="681.50" y1="263.50" x2="678.70" y2="263.50" stroke="#505050" stroke-width="1.1"/>
<text x="399.00" y="267.40" text-anchor="end">300</text>
<text x="541.80" y="480.30" text-anchor="middle">Y(km)</text>
<text transform="translate(369.80,359.50) rotate(-90)" text-anchor="middle" textLength="57" lengthAdjust="spacing">H-RMSE(m)</text>
<polyline points="422.5,443.3 664.2,443.9" fill="none" stroke="#000" stroke-width="2.1" stroke-dasharray="2 2"/>
<polyline points="422.2,452.1 432.0,444.1 441.5,447.0 451.7,453.4 461.9,453.4 472.2,450.4 482.4,450.4 492.6,452.4 505.0,453.3 530.0,453.4 545.0,453.2 554.0,452.3 565.0,453.4 590.0,453.4 603.9,453.4 612.2,451.5 624.7,452.7 645.5,452.7 656.6,451.5 663.5,451.6" fill="none" stroke="#000" stroke-width="2.4" stroke-linejoin="round"/>
<polyline points="422.3,450.5 431.5,440.4 441.4,432.5 450.7,430.0 461.6,421.6 471.6,403.8 482.2,400.7 492.6,388.3 502.5,380.5 512.5,380.5 522.5,373.8 533.0,339.2 542.8,286.7 553.3,358.3 563.7,360.5 573.3,352.7 583.2,330.9 594.1,345.7 603.2,338.6 613.8,335.7 622.2,324.8 631.3,318.0 644.7,341.8 651.9,322.0 668.4,361.4" fill="none" stroke="#000" stroke-width="2.0" stroke-linejoin="round"/>
<path d="M422.3 445.9L425.5 450.5L422.3 455.1L419.1 450.5ZM431.5 435.8L434.7 440.4L431.5 445.0L428.3 440.4ZM441.4 427.9L444.6 432.5L441.4 437.1L438.2 432.5ZM450.7 425.4L453.9 430.0L450.7 434.6L447.5 430.0ZM461.6 417.0L464.8 421.6L461.6 426.2L458.4 421.6ZM471.6 399.2L474.8 403.8L471.6 408.4L468.4 403.8ZM482.2 396.1L485.4 400.7L482.2 405.3L479.0 400.7ZM492.6 383.7L495.8 388.3L492.6 392.9L489.4 388.3ZM502.5 375.9L505.7 380.5L502.5 385.1L499.3 380.5ZM512.5 375.9L515.7 380.5L512.5 385.1L509.3 380.5ZM522.5 369.2L525.7 373.8L522.5 378.4L519.3 373.8ZM533.0 334.6L536.2 339.2L533.0 343.8L529.8 339.2ZM542.8 282.1L546.0 286.7L542.8 291.3L539.6 286.7ZM553.3 353.7L556.5 358.3L553.3 362.9L550.1 358.3ZM563.7 355.9L566.9 360.5L563.7 365.1L560.5 360.5ZM573.3 348.1L576.5 352.7L573.3 357.3L570.1 352.7ZM583.2 326.3L586.4 330.9L583.2 335.5L580.0 330.9ZM594.1 341.1L597.3 345.7L594.1 350.3L590.9 345.7ZM603.2 334.0L606.4 338.6L603.2 343.2L600.0 338.6ZM613.8 331.1L617.0 335.7L613.8 340.3L610.6 335.7ZM622.2 320.2L625.4 324.8L622.2 329.4L619.0 324.8ZM631.3 313.4L634.5 318.0L631.3 322.6L628.1 318.0ZM644.7 337.2L647.9 341.8L644.7 346.4L641.5 341.8ZM651.9 317.4L655.1 322.0L651.9 326.6L648.7 322.0ZM668.4 356.8L671.6 361.4L668.4 366.0L665.2 361.4Z" fill="#000"/>
<path d="M422.3 449.5L423.0 450.5L422.3 451.5L421.6 450.5ZM431.5 439.4L432.2 440.4L431.5 441.4L430.8 440.4ZM441.4 431.5L442.1 432.5L441.4 433.5L440.7 432.5ZM450.7 429.0L451.4 430.0L450.7 431.0L450.0 430.0ZM461.6 420.6L462.3 421.6L461.6 422.6L460.9 421.6ZM471.6 402.8L472.3 403.8L471.6 404.8L470.9 403.8ZM482.2 399.7L482.9 400.7L482.2 401.7L481.5 400.7ZM492.6 387.3L493.3 388.3L492.6 389.3L491.9 388.3ZM502.5 379.5L503.2 380.5L502.5 381.5L501.8 380.5ZM512.5 379.5L513.2 380.5L512.5 381.5L511.8 380.5ZM522.5 372.8L523.2 373.8L522.5 374.8L521.8 373.8ZM533.0 338.2L533.7 339.2L533.0 340.2L532.3 339.2ZM542.8 285.7L543.5 286.7L542.8 287.7L542.1 286.7ZM553.3 357.3L554.0 358.3L553.3 359.3L552.6 358.3ZM563.7 359.5L564.4 360.5L563.7 361.5L563.0 360.5ZM573.3 351.7L574.0 352.7L573.3 353.7L572.6 352.7ZM583.2 329.9L583.9 330.9L583.2 331.9L582.5 330.9ZM594.1 344.7L594.8 345.7L594.1 346.7L593.4 345.7ZM603.2 337.6L603.9 338.6L603.2 339.6L602.5 338.6ZM613.8 334.7L614.5 335.7L613.8 336.7L613.1 335.7ZM622.2 323.8L622.9 324.8L622.2 325.8L621.5 324.8ZM631.3 317.0L632.0 318.0L631.3 319.0L630.6 318.0ZM644.7 340.8L645.4 341.8L644.7 342.8L644.0 341.8ZM651.9 321.0L652.6 322.0L651.9 323.0L651.2 322.0ZM668.4 360.4L669.1 361.4L668.4 362.4L667.7 361.4Z" fill="#666"/>
<rect x="576.7" y="269.0" width="99.9" height="43.9" fill="#fff" stroke="#4a4a4a" stroke-width="1.1"/>
<line x1="582.1" y1="278.3" x2="607.8" y2="278.3" stroke="#000" stroke-width="1.7"/>
<path d="M595.0 274.0L597.8 278.3L595.0 282.6L592.2 278.3Z" fill="#000"/>
<path d="M595.0 277.0L595.7 278.3L595.0 279.6L594.2 278.3Z" fill="#555"/>
<text x="611.1" y="281.3" font-size="8.4">classical method</text>
<line x1="582.1" y1="291.4" x2="607.8" y2="291.4" stroke="#000" stroke-width="2.6"/>
<text x="611.1" y="294.4" font-size="8.4">new method</text>
<line x1="582.1" y1="305.3" x2="607.8" y2="305.3" stroke="#000" stroke-width="2.1" stroke-dasharray="2 2"/>
<text x="611.1" y="308.3" font-size="8.4">UKF</text>
<line x1="73.50" y1="500.50" x2="73.50" y2="693.50" stroke="#3c3c3c" stroke-width="1" stroke-dasharray="2.8 3.05"/>
<line x1="108.50" y1="500.50" x2="108.50" y2="693.50" stroke="#3c3c3c" stroke-width="1" stroke-dasharray="2.8 3.05"/>
<line x1="143.50" y1="500.50" x2="143.50" y2="693.50" stroke="#3c3c3c" stroke-width="1" stroke-dasharray="2.8 3.05"/>
<line x1="178.50" y1="500.50" x2="178.50" y2="693.50" stroke="#3c3c3c" stroke-width="1" stroke-dasharray="2.8 3.05"/>
<line x1="213.50" y1="500.50" x2="213.50" y2="693.50" stroke="#3c3c3c" stroke-width="1" stroke-dasharray="2.8 3.05"/>
<line x1="247.50" y1="500.50" x2="247.50" y2="693.50" stroke="#3c3c3c" stroke-width="1" stroke-dasharray="2.8 3.05"/>
<line x1="282.50" y1="500.50" x2="282.50" y2="693.50" stroke="#3c3c3c" stroke-width="1" stroke-dasharray="2.8 3.05"/>
<line x1="39.50" y1="669.50" x2="317.50" y2="669.50" stroke="#3c3c3c" stroke-width="1" stroke-dasharray="2.8 3.05"/>
<line x1="39.50" y1="645.50" x2="317.50" y2="645.50" stroke="#3c3c3c" stroke-width="1" stroke-dasharray="2.8 3.05"/>
<line x1="39.50" y1="621.50" x2="317.50" y2="621.50" stroke="#3c3c3c" stroke-width="1" stroke-dasharray="2.8 3.05"/>
<line x1="39.50" y1="597.50" x2="317.50" y2="597.50" stroke="#3c3c3c" stroke-width="1" stroke-dasharray="2.8 3.05"/>
<line x1="39.50" y1="572.50" x2="317.50" y2="572.50" stroke="#3c3c3c" stroke-width="1" stroke-dasharray="2.8 3.05"/>
<line x1="39.50" y1="548.50" x2="317.50" y2="548.50" stroke="#3c3c3c" stroke-width="1" stroke-dasharray="2.8 3.05"/>
<line x1="39.50" y1="524.50" x2="317.50" y2="524.50" stroke="#3c3c3c" stroke-width="1" stroke-dasharray="2.8 3.05"/>
<rect x="39.50" y="500.50" width="278.00" height="193.00" fill="none" stroke="#505050" stroke-width="1.1"/>
<line x1="39.50" y1="693.50" x2="39.50" y2="690.70" stroke="#505050" stroke-width="1.1"/>
<line x1="39.50" y1="500.50" x2="39.50" y2="503.30" stroke="#505050" stroke-width="1.1"/>
<text x="39.10" y="704.70" text-anchor="middle">-8</text>
<line x1="73.50" y1="693.50" x2="73.50" y2="690.70" stroke="#505050" stroke-width="1.1"/>
<line x1="73.50" y1="500.50" x2="73.50" y2="503.30" stroke="#505050" stroke-width="1.1"/>
<text x="73.91" y="704.70" text-anchor="middle">-6</text>
<line x1="108.50" y1="693.50" x2="108.50" y2="690.70" stroke="#505050" stroke-width="1.1"/>
<line x1="108.50" y1="500.50" x2="108.50" y2="503.30" stroke="#505050" stroke-width="1.1"/>
<text x="108.72" y="704.70" text-anchor="middle">-4</text>
<line x1="143.50" y1="693.50" x2="143.50" y2="690.70" stroke="#505050" stroke-width="1.1"/>
<line x1="143.50" y1="500.50" x2="143.50" y2="503.30" stroke="#505050" stroke-width="1.1"/>
<text x="143.54" y="704.70" text-anchor="middle">-2</text>
<line x1="178.50" y1="693.50" x2="178.50" y2="690.70" stroke="#505050" stroke-width="1.1"/>
<line x1="178.50" y1="500.50" x2="178.50" y2="503.30" stroke="#505050" stroke-width="1.1"/>
<text x="178.35" y="704.70" text-anchor="middle">0</text>
<line x1="213.50" y1="693.50" x2="213.50" y2="690.70" stroke="#505050" stroke-width="1.1"/>
<line x1="213.50" y1="500.50" x2="213.50" y2="503.30" stroke="#505050" stroke-width="1.1"/>
<text x="213.16" y="704.70" text-anchor="middle">2</text>
<line x1="247.50" y1="693.50" x2="247.50" y2="690.70" stroke="#505050" stroke-width="1.1"/>
<line x1="247.50" y1="500.50" x2="247.50" y2="503.30" stroke="#505050" stroke-width="1.1"/>
<text x="247.97" y="704.70" text-anchor="middle">4</text>
<line x1="282.50" y1="693.50" x2="282.50" y2="690.70" stroke="#505050" stroke-width="1.1"/>
<line x1="282.50" y1="500.50" x2="282.50" y2="503.30" stroke="#505050" stroke-width="1.1"/>
<text x="282.79" y="704.70" text-anchor="middle">6</text>
<line x1="317.50" y1="693.50" x2="317.50" y2="690.70" stroke="#505050" stroke-width="1.1"/>
<line x1="317.50" y1="500.50" x2="317.50" y2="503.30" stroke="#505050" stroke-width="1.1"/>
<text x="317.60" y="704.70" text-anchor="middle">8</text>
<line x1="39.50" y1="693.50" x2="42.30" y2="693.50" stroke="#505050" stroke-width="1.1"/>
<line x1="317.50" y1="693.50" x2="314.70" y2="693.50" stroke="#505050" stroke-width="1.1"/>
<text x="35.50" y="697.10" text-anchor="end">0</text>
<line x1="39.50" y1="669.50" x2="42.30" y2="669.50" stroke="#505050" stroke-width="1.1"/>
<line x1="317.50" y1="669.50" x2="314.70" y2="669.50" stroke="#505050" stroke-width="1.1"/>
<text x="35.50" y="673.02" text-anchor="end">50</text>
<line x1="39.50" y1="645.50" x2="42.30" y2="645.50" stroke="#505050" stroke-width="1.1"/>
<line x1="317.50" y1="645.50" x2="314.70" y2="645.50" stroke="#505050" stroke-width="1.1"/>
<text x="35.50" y="648.95" text-anchor="end">100</text>
<line x1="39.50" y1="621.50" x2="42.30" y2="621.50" stroke="#505050" stroke-width="1.1"/>
<line x1="317.50" y1="621.50" x2="314.70" y2="621.50" stroke="#505050" stroke-width="1.1"/>
<text x="35.50" y="624.87" text-anchor="end">150</text>
<line x1="39.50" y1="597.50" x2="42.30" y2="597.50" stroke="#505050" stroke-width="1.1"/>
<line x1="317.50" y1="597.50" x2="314.70" y2="597.50" stroke="#505050" stroke-width="1.1"/>
<text x="35.50" y="600.80" text-anchor="end">200</text>
<line x1="39.50" y1="572.50" x2="42.30" y2="572.50" stroke="#505050" stroke-width="1.1"/>
<line x1="317.50" y1="572.50" x2="314.70" y2="572.50" stroke="#505050" stroke-width="1.1"/>
<text x="35.50" y="576.72" text-anchor="end">250</text>
<line x1="39.50" y1="548.50" x2="42.30" y2="548.50" stroke="#505050" stroke-width="1.1"/>
<line x1="317.50" y1="548.50" x2="314.70" y2="548.50" stroke="#505050" stroke-width="1.1"/>
<text x="35.50" y="552.65" text-anchor="end">300</text>
<line x1="39.50" y1="524.50" x2="42.30" y2="524.50" stroke="#505050" stroke-width="1.1"/>
<line x1="317.50" y1="524.50" x2="314.70" y2="524.50" stroke="#505050" stroke-width="1.1"/>
<text x="35.50" y="528.57" text-anchor="end">350</text>
<line x1="39.50" y1="500.50" x2="42.30" y2="500.50" stroke="#505050" stroke-width="1.1"/>
<line x1="317.50" y1="500.50" x2="314.70" y2="500.50" stroke="#505050" stroke-width="1.1"/>
<text x="35.50" y="504.50" text-anchor="end">400</text>
<text x="178.35" y="717.70" text-anchor="middle">Y(km)</text>
<text transform="translate(7.90,596.50) rotate(-90)" text-anchor="middle" textLength="63.9" lengthAdjust="spacing">Vx-RMSE(m/s)</text>
<polyline points="57.5,691.5 100.0,691.3 140.0,690.8 170.0,690.2 190.0,689.8 205.0,688.8 220.0,689.6 250.0,690.2 280.0,690.6 300.3,690.8" fill="none" stroke="#000" stroke-width="1.7" stroke-dasharray="1.6 1.4"/>
<polyline points="57.5,692.3 100.0,692.5 150.0,692.5 200.0,692.4 250.0,692.4 300.3,692.4" fill="none" stroke="#000" stroke-width="2.4" stroke-linejoin="round"/>
<polyline points="57.5,687.8 66.7,681.7 76.3,667.8 88.0,650.0 97.8,655.0 108.0,630.0 118.3,652.8 129.6,673.3 139.3,640.7 149.1,623.8 159.2,635.8 169.5,579.5 179.5,595.8 190.0,582.0 200.0,512.3 210.2,662.9 220.3,679.2 229.5,581.0 240.4,692.8 251.5,676.1 259.9,687.4 271.5,682.9 277.9,663.1 292.9,676.7 304.2,671.2" fill="none" stroke="#000" stroke-width="2.0" stroke-linejoin="round"/>
<path d="M57.5 683.2L60.7 687.8L57.5 692.4L54.3 687.8ZM66.7 677.1L69.9 681.7L66.7 686.3L63.5 681.7ZM76.3 663.2L79.5 667.8L76.3 672.4L73.1 667.8ZM88.0 645.4L91.2 650.0L88.0 654.6L84.8 650.0ZM97.8 650.4L101.0 655.0L97.8 659.6L94.6 655.0ZM108.0 625.4L111.2 630.0L108.0 634.6L104.8 630.0ZM118.3 648.2L121.5 652.8L118.3 657.4L115.1 652.8ZM129.6 668.7L132.8 673.3L129.6 677.9L126.4 673.3ZM139.3 636.1L142.5 640.7L139.3 645.3L136.1 640.7ZM149.1 619.2L152.3 623.8L149.1 628.4L145.9 623.8ZM159.2 631.2L162.4 635.8L159.2 640.4L156.0 635.8ZM169.5 574.9L172.7 579.5L169.5 584.1L166.3 579.5ZM179.5 591.2L182.7 595.8L179.5 600.4L176.3 595.8ZM190.0 577.4L193.2 582.0L190.0 586.6L186.8 582.0ZM200.0 507.7L203.2 512.3L200.0 516.9L196.8 512.3ZM210.2 658.3L213.4 662.9L210.2 667.5L207.0 662.9ZM220.3 674.6L223.5 679.2L220.3 683.8L217.1 679.2ZM229.5 576.4L232.7 581.0L229.5 585.6L226.3 581.0ZM240.4 688.2L243.6 692.8L240.4 697.4L237.2 692.8ZM251.5 671.5L254.7 676.1L251.5 680.7L248.3 676.1ZM259.9 682.8L263.1 687.4L259.9 692.0L256.7 687.4ZM271.5 678.3L274.7 682.9L271.5 687.5L268.3 682.9ZM277.9 658.5L281.1 663.1L277.9 667.7L274.7 663.1ZM292.9 672.1L296.1 676.7L292.9 681.3L289.7 676.7ZM304.2 666.6L307.4 671.2L304.2 675.8L301.0 671.2Z" fill="#000"/>
<path d="M57.5 686.8L58.2 687.8L57.5 688.8L56.8 687.8ZM66.7 680.7L67.4 681.7L66.7 682.7L66.0 681.7ZM76.3 666.8L77.0 667.8L76.3 668.8L75.6 667.8ZM88.0 649.0L88.7 650.0L88.0 651.0L87.3 650.0ZM97.8 654.0L98.5 655.0L97.8 656.0L97.1 655.0ZM108.0 629.0L108.7 630.0L108.0 631.0L107.3 630.0ZM118.3 651.8L119.0 652.8L118.3 653.8L117.6 652.8ZM129.6 672.3L130.3 673.3L129.6 674.3L128.9 673.3ZM139.3 639.7L140.0 640.7L139.3 641.7L138.6 640.7ZM149.1 622.8L149.8 623.8L149.1 624.8L148.4 623.8ZM159.2 634.8L159.9 635.8L159.2 636.8L158.5 635.8ZM169.5 578.5L170.2 579.5L169.5 580.5L168.8 579.5ZM179.5 594.8L180.2 595.8L179.5 596.8L178.8 595.8ZM190.0 581.0L190.7 582.0L190.0 583.0L189.3 582.0ZM200.0 511.3L200.7 512.3L200.0 513.3L199.3 512.3ZM210.2 661.9L210.9 662.9L210.2 663.9L209.5 662.9ZM220.3 678.2L221.0 679.2L220.3 680.2L219.6 679.2ZM229.5 580.0L230.2 581.0L229.5 582.0L228.8 581.0ZM240.4 691.8L241.1 692.8L240.4 693.8L239.7 692.8ZM251.5 675.1L252.2 676.1L251.5 677.1L250.8 676.1ZM259.9 686.4L260.6 687.4L259.9 688.4L259.2 687.4ZM271.5 681.9L272.2 682.9L271.5 683.9L270.8 682.9ZM277.9 662.1L278.6 663.1L277.9 664.1L277.2 663.1ZM292.9 675.7L293.6 676.7L292.9 677.7L292.2 676.7ZM304.2 670.2L304.9 671.2L304.2 672.2L303.5 671.2Z" fill="#666"/>
<rect x="212.6" y="505.6" width="101.2" height="41.1" fill="#fff" stroke="#4a4a4a" stroke-width="1.1"/>
<line x1="218.4" y1="514" x2="244.4" y2="514" stroke="#000" stroke-width="1.7"/>
<path d="M231.4 509.7L234.2 514.0L231.4 518.3L228.6 514.0Z" fill="#000"/>
<path d="M231.4 512.7L232.1 514.0L231.4 515.3L230.7 514.0Z" fill="#555"/>
<text x="247.8" y="517.0" font-size="8.4">classical method</text>
<line x1="218.4" y1="526.5" x2="244.4" y2="526.5" stroke="#000" stroke-width="2.6"/>
<text x="247.8" y="529.5" font-size="8.4">new method</text>
<line x1="218.4" y1="538.3" x2="244.4" y2="538.3" stroke="#000" stroke-width="1.6" stroke-dasharray="1.5 1.4"/>
<text x="247.8" y="541.3" font-size="8.4">UKF</text>
<line x1="437.50" y1="500.50" x2="437.50" y2="693.50" stroke="#3c3c3c" stroke-width="1" stroke-dasharray="2.8 3.05"/>
<line x1="472.50" y1="500.50" x2="472.50" y2="693.50" stroke="#3c3c3c" stroke-width="1" stroke-dasharray="2.8 3.05"/>
<line x1="507.50" y1="500.50" x2="507.50" y2="693.50" stroke="#3c3c3c" stroke-width="1" stroke-dasharray="2.8 3.05"/>
<line x1="541.50" y1="500.50" x2="541.50" y2="693.50" stroke="#3c3c3c" stroke-width="1" stroke-dasharray="2.8 3.05"/>
<line x1="576.50" y1="500.50" x2="576.50" y2="693.50" stroke="#3c3c3c" stroke-width="1" stroke-dasharray="2.8 3.05"/>
<line x1="611.50" y1="500.50" x2="611.50" y2="693.50" stroke="#3c3c3c" stroke-width="1" stroke-dasharray="2.8 3.05"/>
<line x1="646.50" y1="500.50" x2="646.50" y2="693.50" stroke="#3c3c3c" stroke-width="1" stroke-dasharray="2.8 3.05"/>
<line x1="402.50" y1="660.50" x2="681.50" y2="660.50" stroke="#3c3c3c" stroke-width="1" stroke-dasharray="2.8 3.05"/>
<line x1="402.50" y1="628.50" x2="681.50" y2="628.50" stroke="#3c3c3c" stroke-width="1" stroke-dasharray="2.8 3.05"/>
<line x1="402.50" y1="596.50" x2="681.50" y2="596.50" stroke="#3c3c3c" stroke-width="1" stroke-dasharray="2.8 3.05"/>
<line x1="402.50" y1="564.50" x2="681.50" y2="564.50" stroke="#3c3c3c" stroke-width="1" stroke-dasharray="2.8 3.05"/>
<line x1="402.50" y1="532.50" x2="681.50" y2="532.50" stroke="#3c3c3c" stroke-width="1" stroke-dasharray="2.8 3.05"/>
<rect x="402.50" y="500.50" width="279.00" height="193.00" fill="none" stroke="#505050" stroke-width="1.1"/>
<line x1="402.50" y1="693.50" x2="402.50" y2="690.70" stroke="#505050" stroke-width="1.1"/>
<line x1="402.50" y1="500.50" x2="402.50" y2="503.30" stroke="#505050" stroke-width="1.1"/>
<text x="402.60" y="704.40" text-anchor="middle">-8</text>
<line x1="437.50" y1="693.50" x2="437.50" y2="690.70" stroke="#505050" stroke-width="1.1"/>
<line x1="437.50" y1="500.50" x2="437.50" y2="503.30" stroke="#505050" stroke-width="1.1"/>
<text x="437.40" y="704.40" text-anchor="middle">-6</text>
<line x1="472.50" y1="693.50" x2="472.50" y2="690.70" stroke="#505050" stroke-width="1.1"/>
<line x1="472.50" y1="500.50" x2="472.50" y2="503.30" stroke="#505050" stroke-width="1.1"/>
<text x="472.20" y="704.40" text-anchor="middle">-4</text>
<line x1="507.50" y1="693.50" x2="507.50" y2="690.70" stroke="#505050" stroke-width="1.1"/>
<line x1="507.50" y1="500.50" x2="507.50" y2="503.30" stroke="#505050" stroke-width="1.1"/>
<text x="507.00" y="704.40" text-anchor="middle">-2</text>
<line x1="541.50" y1="693.50" x2="541.50" y2="690.70" stroke="#505050" stroke-width="1.1"/>
<line x1="541.50" y1="500.50" x2="541.50" y2="503.30" stroke="#505050" stroke-width="1.1"/>
<text x="541.80" y="704.40" text-anchor="middle">0</text>
<line x1="576.50" y1="693.50" x2="576.50" y2="690.70" stroke="#505050" stroke-width="1.1"/>
<line x1="576.50" y1="500.50" x2="576.50" y2="503.30" stroke="#505050" stroke-width="1.1"/>
<text x="576.60" y="704.40" text-anchor="middle">2</text>
<line x1="611.50" y1="693.50" x2="611.50" y2="690.70" stroke="#505050" stroke-width="1.1"/>
<line x1="611.50" y1="500.50" x2="611.50" y2="503.30" stroke="#505050" stroke-width="1.1"/>
<text x="611.40" y="704.40" text-anchor="middle">4</text>
<line x1="646.50" y1="693.50" x2="646.50" y2="690.70" stroke="#505050" stroke-width="1.1"/>
<line x1="646.50" y1="500.50" x2="646.50" y2="503.30" stroke="#505050" stroke-width="1.1"/>
<text x="646.20" y="704.40" text-anchor="middle">6</text>
<line x1="681.50" y1="693.50" x2="681.50" y2="690.70" stroke="#505050" stroke-width="1.1"/>
<line x1="681.50" y1="500.50" x2="681.50" y2="503.30" stroke="#505050" stroke-width="1.1"/>
<text x="681.00" y="704.40" text-anchor="middle">8</text>
<line x1="402.50" y1="693.50" x2="405.30" y2="693.50" stroke="#505050" stroke-width="1.1"/>
<line x1="681.50" y1="693.50" x2="678.70" y2="693.50" stroke="#505050" stroke-width="1.1"/>
<text x="399.00" y="696.80" text-anchor="end">0</text>
<line x1="402.50" y1="660.50" x2="405.30" y2="660.50" stroke="#505050" stroke-width="1.1"/>
<line x1="681.50" y1="660.50" x2="678.70" y2="660.50" stroke="#505050" stroke-width="1.1"/>
<text x="399.00" y="664.70" text-anchor="end">5</text>
<line x1="402.50" y1="628.50" x2="405.30" y2="628.50" stroke="#505050" stroke-width="1.1"/>
<line x1="681.50" y1="628.50" x2="678.70" y2="628.50" stroke="#505050" stroke-width="1.1"/>
<text x="399.00" y="632.60" text-anchor="end">10</text>
<line x1="402.50" y1="596.50" x2="405.30" y2="596.50" stroke="#505050" stroke-width="1.1"/>
<line x1="681.50" y1="596.50" x2="678.70" y2="596.50" stroke="#505050" stroke-width="1.1"/>
<text x="399.00" y="600.50" text-anchor="end">15</text>
<line x1="402.50" y1="564.50" x2="405.30" y2="564.50" stroke="#505050" stroke-width="1.1"/>
<line x1="681.50" y1="564.50" x2="678.70" y2="564.50" stroke="#505050" stroke-width="1.1"/>
<text x="399.00" y="568.40" text-anchor="end">20</text>
<line x1="402.50" y1="532.50" x2="405.30" y2="532.50" stroke="#505050" stroke-width="1.1"/>
<line x1="681.50" y1="532.50" x2="678.70" y2="532.50" stroke="#505050" stroke-width="1.1"/>
<text x="399.00" y="536.30" text-anchor="end">25</text>
<line x1="402.50" y1="500.50" x2="405.30" y2="500.50" stroke="#505050" stroke-width="1.1"/>
<line x1="681.50" y1="500.50" x2="678.70" y2="500.50" stroke="#505050" stroke-width="1.1"/>
<text x="399.00" y="504.20" text-anchor="end">30</text>
<text x="541.80" y="717.70" text-anchor="middle">Y(km)</text>
<text transform="translate(371.00,596.50) rotate(-90)" text-anchor="middle" textLength="63.9" lengthAdjust="spacing">Vy-RMSE(m/s)</text>
<polyline points="423.3,689.6 435.5,689.1 445.8,687.4 454.0,686.4 467.2,684.3 480.0,681.9 491.0,675.3 501.5,667.4 510.3,656.1 517.3,638.5 522.6,621.0 526.9,600.0 531.0,566.0 535.8,509.2 540.0,550.0 543.5,585.0 546.3,610.8 550.5,575.0 555.3,545.0 558.5,580.0 560.2,600.0 562.9,629.8 567.2,652.6 573.4,670.1 582.1,678.8 591.8,683.0 610.3,688.0 628.8,688.5 645.5,688.8 657.3,689.7 664.0,692.2" fill="none" stroke="#000" stroke-width="1.7" stroke-dasharray="1.6 1.4"/>
<polyline points="421.8,690.8 430.0,691.6 440.7,692.2 480.0,692.3 520.0,692.3 560.0,692.2 600.0,692.2 640.0,692.0 664.0,692.3" fill="none" stroke="#000" stroke-width="2.4" stroke-linejoin="round"/>
<polyline points="421.5,687.3 430.8,681.0 442.2,689.6 452.2,688.2 461.2,683.7 471.8,687.3 482.9,689.3 492.4,691.9 502.3,676.1 512.6,689.3 522.6,687.9 533.1,690.7 543.2,688.5 553.2,683.7 563.2,689.7 573.4,671.8 583.1,658.7 593.2,674.6 602.7,664.1 615.3,653.6 622.4,664.5 637.1,653.9 647.2,655.6 651.8,657.3 674.5,618.8" fill="none" stroke="#000" stroke-width="2.0" stroke-linejoin="round"/>
<path d="M421.5 682.7L424.7 687.3L421.5 691.9L418.3 687.3ZM430.8 676.4L434.0 681.0L430.8 685.6L427.6 681.0ZM442.2 685.0L445.4 689.6L442.2 694.2L439.0 689.6ZM452.2 683.6L455.4 688.2L452.2 692.8L449.0 688.2ZM461.2 679.1L464.4 683.7L461.2 688.3L458.0 683.7ZM471.8 682.7L475.0 687.3L471.8 691.9L468.6 687.3ZM482.9 684.7L486.1 689.3L482.9 693.9L479.7 689.3ZM492.4 687.3L495.6 691.9L492.4 696.5L489.2 691.9ZM502.3 671.5L505.5 676.1L502.3 680.7L499.1 676.1ZM512.6 684.7L515.8 689.3L512.6 693.9L509.4 689.3ZM522.6 683.3L525.8 687.9L522.6 692.5L519.4 687.9ZM533.1 686.1L536.3 690.7L533.1 695.3L529.9 690.7ZM543.2 683.9L546.4 688.5L543.2 693.1L540.0 688.5ZM553.2 679.1L556.4 683.7L553.2 688.3L550.0 683.7ZM563.2 685.1L566.4 689.7L563.2 694.3L560.0 689.7ZM573.4 667.2L576.6 671.8L573.4 676.4L570.2 671.8ZM583.1 654.1L586.3 658.7L583.1 663.3L579.9 658.7ZM593.2 670.0L596.4 674.6L593.2 679.2L590.0 674.6ZM602.7 659.5L605.9 664.1L602.7 668.7L599.5 664.1ZM615.3 649.0L618.5 653.6L615.3 658.2L612.1 653.6ZM622.4 659.9L625.6 664.5L622.4 669.1L619.2 664.5ZM637.1 649.3L640.3 653.9L637.1 658.5L633.9 653.9ZM647.2 651.0L650.4 655.6L647.2 660.2L644.0 655.6ZM651.8 652.7L655.0 657.3L651.8 661.9L648.6 657.3ZM674.5 614.2L677.7 618.8L674.5 623.4L671.3 618.8Z" fill="#000"/>
<path d="M421.5 686.3L422.2 687.3L421.5 688.3L420.8 687.3ZM430.8 680.0L431.5 681.0L430.8 682.0L430.1 681.0ZM442.2 688.6L442.9 689.6L442.2 690.6L441.5 689.6ZM452.2 687.2L452.9 688.2L452.2 689.2L451.5 688.2ZM461.2 682.7L461.9 683.7L461.2 684.7L460.5 683.7ZM471.8 686.3L472.5 687.3L471.8 688.3L471.1 687.3ZM482.9 688.3L483.6 689.3L482.9 690.3L482.2 689.3ZM492.4 690.9L493.1 691.9L492.4 692.9L491.7 691.9ZM502.3 675.1L503.0 676.1L502.3 677.1L501.6 676.1ZM512.6 688.3L513.3 689.3L512.6 690.3L511.9 689.3ZM522.6 686.9L523.3 687.9L522.6 688.9L521.9 687.9ZM533.1 689.7L533.8 690.7L533.1 691.7L532.4 690.7ZM543.2 687.5L543.9 688.5L543.2 689.5L542.5 688.5ZM553.2 682.7L553.9 683.7L553.2 684.7L552.5 683.7ZM563.2 688.7L563.9 689.7L563.2 690.7L562.5 689.7ZM573.4 670.8L574.1 671.8L573.4 672.8L572.7 671.8ZM583.1 657.7L583.8 658.7L583.1 659.7L582.4 658.7ZM593.2 673.6L593.9 674.6L593.2 675.6L592.5 674.6ZM602.7 663.1L603.4 664.1L602.7 665.1L602.0 664.1ZM615.3 652.6L616.0 653.6L615.3 654.6L614.6 653.6ZM622.4 663.5L623.1 664.5L622.4 665.5L621.7 664.5ZM637.1 652.9L637.8 653.9L637.1 654.9L636.4 653.9ZM647.2 654.6L647.9 655.6L647.2 656.6L646.5 655.6ZM651.8 656.3L652.5 657.3L651.8 658.3L651.1 657.3ZM674.5 617.8L675.2 618.8L674.5 619.8L673.8 618.8Z" fill="#666"/>
<rect x="576.7" y="505.0" width="100.2" height="41.3" fill="#fff" stroke="#4a4a4a" stroke-width="1.1"/>
<line x1="582.1" y1="514" x2="607.8" y2="514" stroke="#000" stroke-width="1.7"/>
<path d="M595.0 509.7L597.8 514.0L595.0 518.3L592.2 514.0Z" fill="#000"/>
<path d="M595.0 512.7L595.7 514.0L595.0 515.3L594.2 514.0Z" fill="#555"/>
<text x="611.1" y="517.0" font-size="8.4">classical method</text>
<line x1="582.1" y1="526.2" x2="607.8" y2="526.2" stroke="#000" stroke-width="2.6"/>
<text x="611.1" y="529.2" font-size="8.4">new method</text>
<line x1="582.1" y1="538" x2="607.8" y2="538" stroke="#000" stroke-width="1.6" stroke-dasharray="1.5 1.4"/>
<text x="611.1" y="541.0" font-size="8.4">UKF</text>
<text x="-0.30" y="15.00" font-size="18" font-weight="bold" fill="#000">(a)</text>
<text x="362.30" y="15.00" font-size="18" font-weight="bold" fill="#000">(b)</text>
<text x="-0.20" y="255.00" font-size="18" font-weight="bold" fill="#000">(c)</text>
<text x="362.30" y="254.70" font-size="18" font-weight="bold" fill="#000">(d)</text>
<text x="-0.50" y="492.50" font-size="18" font-weight="bold" fill="#000">(e)</text>
<text x="362.30" y="493.40" font-size="18" font-weight="bold" fill="#000">(f)</text>
</svg></body></html>
